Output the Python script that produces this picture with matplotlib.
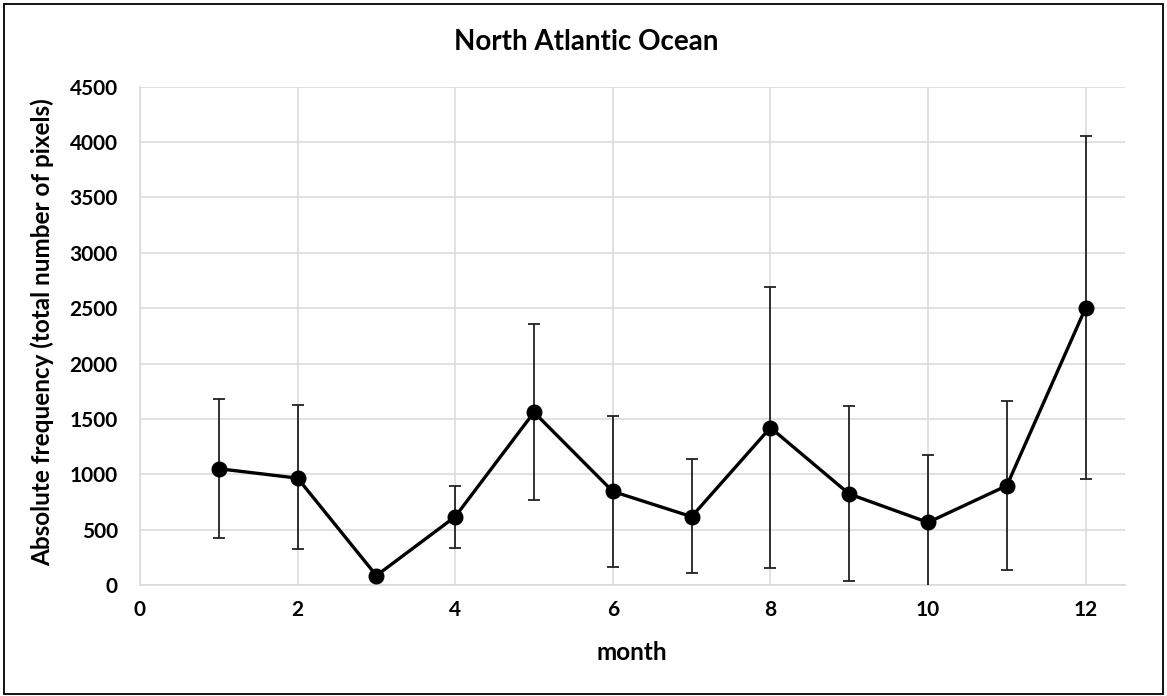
import matplotlib
matplotlib.use("Agg")
import matplotlib.pyplot as plt
from matplotlib.patches import Rectangle
import numpy as np

# Monthly absolute frequency with error ranges
months = [1, 2, 3, 4, 5, 6, 7, 8, 9, 10, 11, 12]
frequency = [1050, 965, 85, 617, 1560, 845, 617, 1421, 822, 565, 897, 2502]
upper = [1680, 1625, 85, 897, 2355, 1526, 1135, 2694, 1617, 1174, 1662, 4058]
lower = [427, 322, 85, 334, 770, 166, 105, 157, 36, -60, 135, 955]

x_ticks = [0, 2, 4, 6, 8, 10, 12]
y_ticks = [0, 500, 1000, 1500, 2000, 2500, 3000, 3500, 4000, 4500]

plt.rcParams['font.family'] = ['Lato', 'DejaVu Sans']
plt.rcParams['font.weight'] = 'bold'

W, H = 1167, 696
fig = plt.figure(figsize=(W / 100, H / 100), dpi=100)
ax = fig.add_axes([140 / W, 1 - 585 / H, (1125 - 140) / W, (585 - 86.7) / H])

freq = np.array(frequency)
yerr = np.vstack([freq - np.array(lower), np.array(upper) - freq])

ax.errorbar(months, frequency, yerr=yerr, fmt='none', ecolor='#222222',
            elinewidth=1.3, capsize=4.5, capthick=1.3, zorder=3)
ax.plot(months, frequency, color='black', lw=2.4, marker='o', ms=10.5,
        markerfacecolor='black', markeredgecolor='black', zorder=4)

ax.set_xlim(0, 12.5)
ax.set_ylim(0, 4500)
ax.set_xticks(x_ticks)
ax.set_yticks(y_ticks)
ax.grid(True, color='#d9d9d9', lw=1.1, zorder=0)
ax.set_axisbelow(True)
for side in ['top', 'right']:
    ax.spines[side].set_visible(False)
for side in ['left', 'bottom']:
    ax.spines[side].set_color('#d9d9d9')
    ax.spines[side].set_linewidth(1.1)
ax.tick_params(length=0, labelsize=15)
ax.tick_params(axis='x', pad=11)
ax.tick_params(axis='y', pad=16)
for lbl in ax.get_xticklabels() + ax.get_yticklabels():
    lbl.set_fontweight('bold')

fig.text(632 / W, 1 - 653 / H, 'month', ha='center', va='center',
         fontsize=17.5, fontweight='bold')
fig.text(42 / W, 1 - 332 / H, 'Absolute frequency (total number of pixels)',
         ha='center', va='center', rotation=90, fontsize=17.5, fontweight='bold')
fig.text(586 / W, 1 - 42 / H, 'North Atlantic Ocean', ha='center', va='center',
         fontsize=20, fontweight='bold')

# Chart frame
fig.patches.append(Rectangle((4 / W, 2 / H), 1159 / W, 690 / H,
                             transform=fig.transFigure, fill=False,
                             edgecolor='black', lw=1.3))

fig.savefig('out.png', dpi=100, facecolor='white')
